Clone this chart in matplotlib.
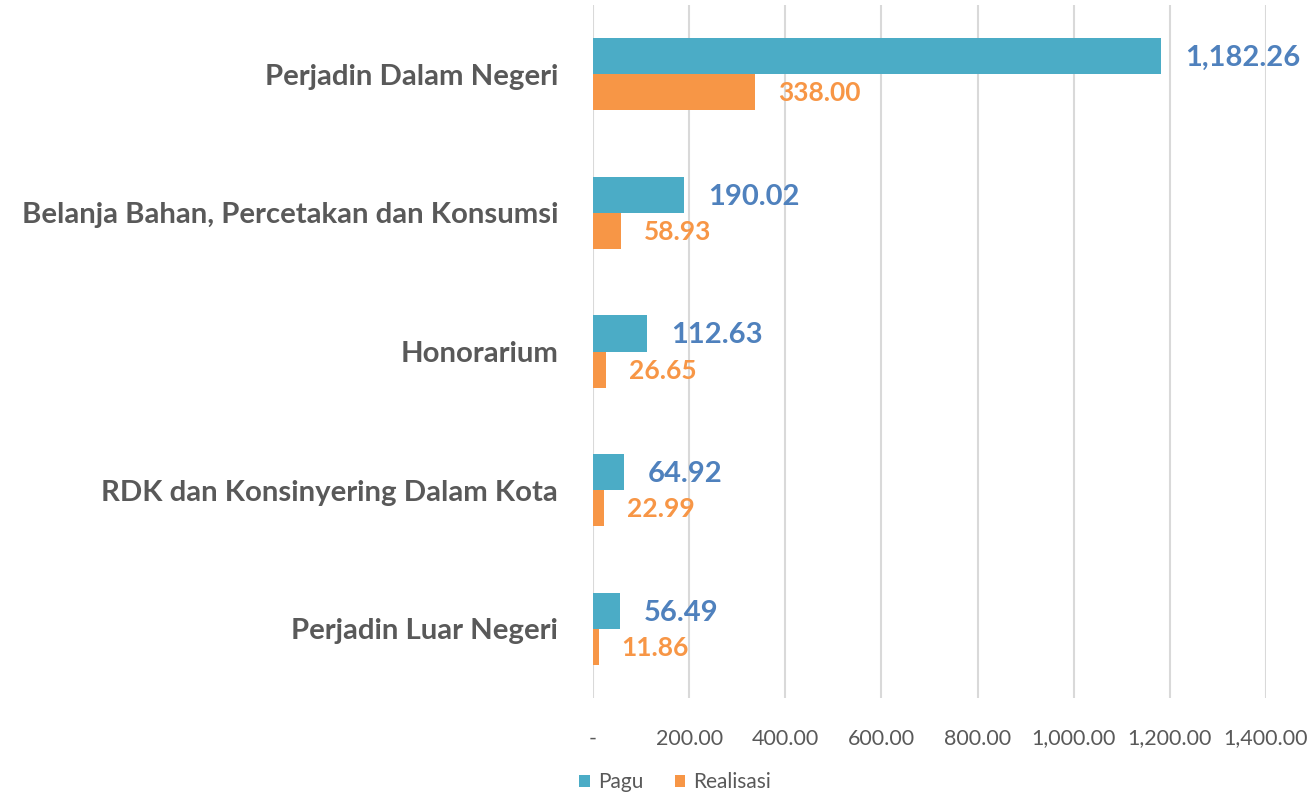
import matplotlib.pyplot as plt
import numpy as np

categories = ['Perjadin Dalam Negeri', 'Belanja Bahan, Percetakan dan Konsumsi',
              'Honorarium', 'RDK dan Konsinyering Dalam Kota', 'Perjadin Luar Negeri']
pagu = [1182.26, 190.02, 112.63, 64.92, 56.49]
realisasi = [338.00, 58.93, 26.65, 22.99, 11.86]
x_ticks = [0, 200, 400, 600, 800, 1000, 1200, 1400]
x_tick_labels = ['-', '200.00', '400.00', '600.00', '800.00', '1,000.00', '1,200.00', '1,400.00']

plt.rcParams['font.family'] = ['Lato', 'DejaVu Sans']

fig = plt.figure(figsize=(13.11, 7.95), dpi=100)
ax = fig.add_axes([0.4523, 0.122, 0.5134, 0.8717])

y = np.arange(len(categories))
h = 0.26
ax.barh(y - h / 2, pagu, height=h, color='#4BACC6', label='Pagu')
ax.barh(y + h / 2, realisasi, height=h, color='#F79646', label='Realisasi')

# value labels next to the bars
for i in range(len(categories)):
    ax.annotate(f'{pagu[i]:,.2f}', (pagu[i], y[i] - h / 2), xytext=(24, -2),
                textcoords='offset pixels', va='center', ha='left',
                fontsize=21, fontweight='bold', color='#4F81BD')
    ax.annotate(f'{realisasi[i]:,.2f}', (realisasi[i], y[i] + h / 2), xytext=(23, -1),
                textcoords='offset pixels', va='center', ha='left',
                fontsize=19, fontweight='bold', color='#F79646')

ax.set_ylim(len(categories) - 0.5, -0.5)
ax.set_yticks(y)
ax.set_yticklabels(categories, fontsize=21.2, fontweight='bold', color='#595959')
ax.set_xlim(0, 1400)
ax.set_xticks(x_ticks)
ax.set_xticklabels(x_tick_labels, fontsize=15.5, color='#595959')
ax.tick_params(axis='both', length=0)
ax.tick_params(axis='y', pad=25)
ax.tick_params(axis='x', pad=22)
ax.grid(axis='x', color='#D9D9D9', linewidth=1.5)
ax.set_axisbelow(True)
for s in ax.spines.values():
    s.set_visible(False)

fig.legend(loc='lower center', bbox_to_anchor=(0.515, -0.02), ncol=2, frameon=False,
           fontsize=15, handlelength=0.5, handleheight=0.5, handletextpad=0.4,
           columnspacing=1.5, labelcolor='#595959')

fig.savefig('out.png', dpi=100)
